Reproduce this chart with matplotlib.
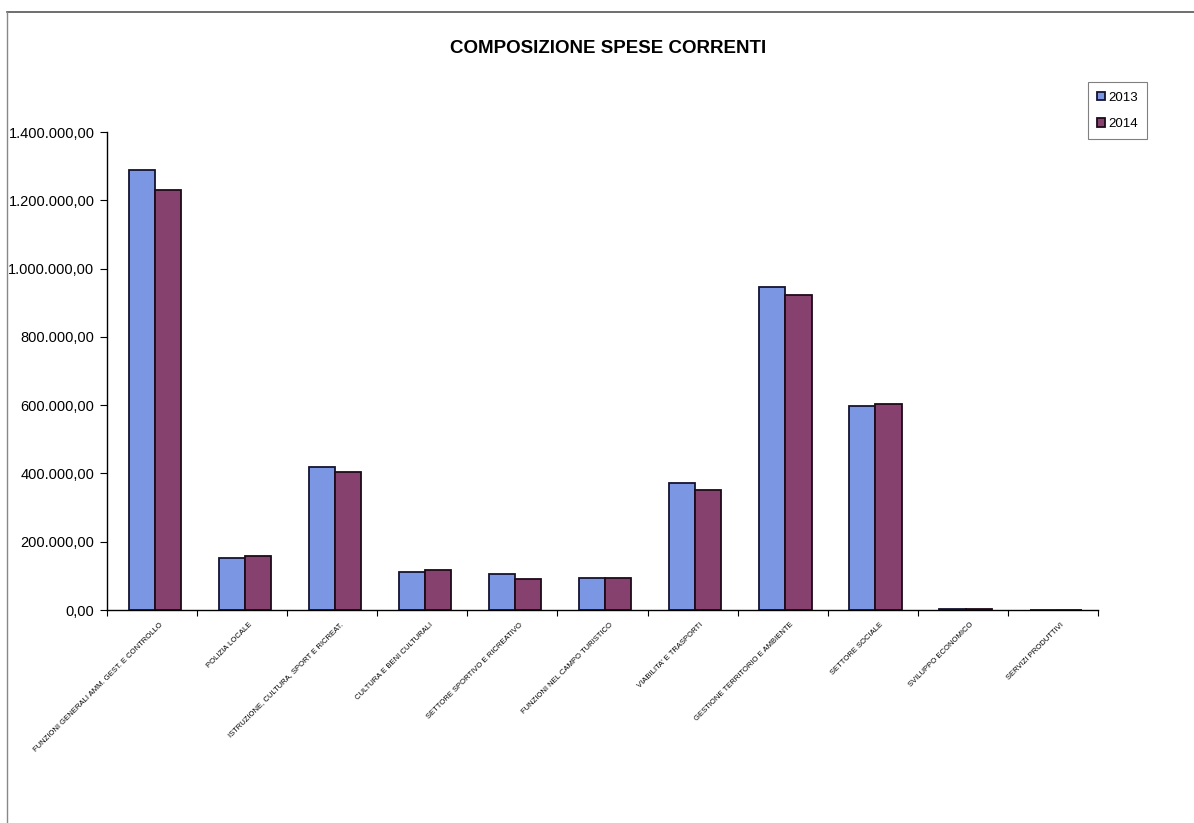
import numpy as np
import matplotlib
matplotlib.use("Agg")
import matplotlib.pyplot as plt
from matplotlib.ticker import FuncFormatter, FixedLocator
from matplotlib.lines import Line2D

plt.rcParams['font.family'] = ['Liberation Sans', 'DejaVu Sans']

# spese correnti per funzione
categorie = [
    "FUNZIONI GENERALI AMM. GEST. E CONTROLLO",
    "POLIZIA LOCALE",
    "ISTRUZIONE, CULTURA, SPORT E RICREAT.",
    "CULTURA E BENI CULTURALI",
    "SETTORE SPORTIVO E RICREATIVO",
    "FUNZIONI NEL CAMPO TURISTICO",
    "VIABILITA' E TRASPORTI",
    "GESTIONE TERRITORIO E AMBIENTE",
    "SETTORE SOCIALE",
    "SVILUPPO ECONOMICO",
    "SERVIZI PRODUTTIVI",
]
spese_2013 = [1290000, 152000, 418000, 112000, 105000, 94000, 372000, 947000, 598000, 3000, 0]
spese_2014 = [1230000, 158000, 405000, 117000, 90000, 94000, 351000, 922000, 602000, 2500, 0]
anni = ["2013", "2014"]


def fmt_it(v, pos):
    s = "{:,.2f}".format(v)
    return s.replace(",", "X").replace(".", ",").replace("X", ".")


fig = plt.figure(figsize=(11.94, 8.23), dpi=100)
ax = fig.add_axes([0.0896, 0.2588, 0.83, 0.5808])

x = np.arange(len(categorie))
w = 0.29
b1 = ax.bar(x - w / 2 + 0.03, spese_2013, w, color="#7b97e4", edgecolor="#141432", linewidth=1.3, label=anni[0])
b2 = ax.bar(x + w / 2 + 0.03, spese_2014, w, color="#87416e", edgecolor="#1e0a1a", linewidth=1.3, label=anni[1])

ax.set_xlim(-0.5, len(categorie) - 0.5)
ax.set_ylim(0, 1400000)
ax.set_yticks(np.arange(0, 1400001, 200000))
ax.yaxis.set_major_formatter(FuncFormatter(fmt_it))
ax.tick_params(axis="y", labelsize=10.5, length=5, direction="out", pad=4)

# ticks fra le categorie, etichette al centro
ax.xaxis.set_major_locator(FixedLocator(np.arange(len(categorie) + 1) - 0.5))
ax.xaxis.set_major_formatter(FuncFormatter(lambda v, p: ""))
ax.xaxis.set_minor_locator(FixedLocator(x + 0.08))
ax.set_xticklabels(categorie, minor=True, rotation=45, ha="right",
                   rotation_mode="anchor", fontsize=5.5)
ax.tick_params(axis="x", which="major", length=4, direction="out")
ax.tick_params(axis="x", which="minor", length=0, pad=8)

for s in ["top", "right"]:
    ax.spines[s].set_visible(False)
ax.spines["left"].set_linewidth(1.0)
ax.spines["bottom"].set_linewidth(1.0)

fig.text(0.509, 0.941, "COMPOSIZIONE SPESE CORRENTI", ha="center", va="center",
         fontsize=13.5, fontweight="bold")

leg = fig.legend(handles=[b1, b2], loc="upper right", bbox_to_anchor=(0.966, 0.908),
                 fontsize=9.5, handlelength=0.6, handleheight=0.6, handletextpad=0.2,
                 labelspacing=1.1, borderpad=0.7, fancybox=False, frameon=True)
leg.get_frame().set_edgecolor("#606060")
leg.get_frame().set_linewidth(0.8)

# cornice esterna
fig.add_artist(Line2D([0.006, 1.0], [0.986, 0.986], color="#555555", linewidth=1.2))
fig.add_artist(Line2D([0.006, 0.006], [0.0, 0.986], color="#888888", linewidth=1.0))

fig.savefig("out.png", dpi=100)
